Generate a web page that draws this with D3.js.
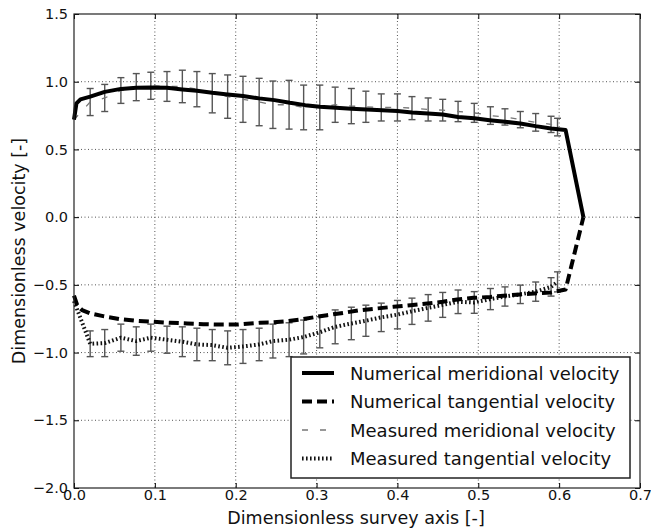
<!DOCTYPE HTML>
<html>

<head>
  <meta charset="utf-8">
  <title>velocity</title>
  <script src="https://d3js.org/d3.v7.min.js"></script>
  <style>
    body { margin: 0; background: #fff; }
    text { font-family: 'DejaVu Sans', sans-serif; fill: #111; }
  </style>
</head>

<body>
  <script>
    // numerical solution
    const numMeridX = [0, 0.003, 0.008, 0.02, 0.038, 0.058, 0.077, 0.095, 0.115, 0.134, 0.152, 0.171, 0.19, 0.209, 0.229, 0.248, 0.267, 0.286, 0.304, 0.324, 0.343, 0.362, 0.381, 0.4, 0.418, 0.438, 0.456, 0.475, 0.495, 0.514, 0.533, 0.552, 0.571, 0.59, 0.608, 0.63];
    const numMerid = [0.72, 0.84, 0.87, 0.89, 0.925, 0.947, 0.955, 0.958, 0.955, 0.943, 0.933, 0.918, 0.906, 0.894, 0.877, 0.864, 0.844, 0.827, 0.815, 0.807, 0.80, 0.795, 0.79, 0.783, 0.773, 0.766, 0.758, 0.74, 0.73, 0.716, 0.704, 0.692, 0.672, 0.655, 0.643, 0.0];

    const numTangX = [0, 0.004, 0.01, 0.02, 0.036, 0.057, 0.078, 0.098, 0.119, 0.14, 0.16, 0.181, 0.202, 0.23, 0.242, 0.263, 0.28, 0.30, 0.313, 0.333, 0.354, 0.375, 0.395, 0.416, 0.437, 0.456, 0.474, 0.494, 0.515, 0.531, 0.552, 0.569, 0.59, 0.608, 0.63];
    const numTang = [-0.58, -0.65, -0.687, -0.711, -0.731, -0.753, -0.766, -0.773, -0.78, -0.785, -0.79, -0.793, -0.793, -0.78, -0.778, -0.768, -0.756, -0.736, -0.724, -0.707, -0.687, -0.674, -0.662, -0.65, -0.638, -0.625, -0.608, -0.596, -0.589, -0.58, -0.571, -0.564, -0.556, -0.534, 0.0];

    // measurements with error bars
    const measX = [0, 0.020, 0.038, 0.058, 0.077, 0.095, 0.115, 0.134, 0.152, 0.171, 0.190, 0.209, 0.229, 0.246, 0.266, 0.284, 0.304, 0.323, 0.343, 0.361, 0.380, 0.400, 0.418, 0.438, 0.456, 0.475, 0.495, 0.515, 0.533, 0.552, 0.571, 0.590, 0.598];
    const measMerid = [0.72, 0.85, 0.88, 0.935, 0.96, 0.97, 0.965, 0.965, 0.945, 0.915, 0.89, 0.87, 0.85, 0.83, 0.83, 0.81, 0.81, 0.83, 0.82, 0.815, 0.81, 0.81, 0.805, 0.795, 0.79, 0.78, 0.77, 0.75, 0.74, 0.72, 0.70, 0.685, 0.665];
    const measMeridErr = [0, 0.10, 0.10, 0.095, 0.10, 0.10, 0.11, 0.12, 0.13, 0.145, 0.16, 0.17, 0.175, 0.175, 0.18, 0.165, 0.165, 0.13, 0.13, 0.115, 0.10, 0.10, 0.085, 0.085, 0.08, 0.075, 0.07, 0.065, 0.06, 0.06, 0.065, 0.06, 0.065];
    const measTang = [-0.62, -0.935, -0.93, -0.89, -0.915, -0.89, -0.905, -0.92, -0.94, -0.945, -0.965, -0.955, -0.94, -0.915, -0.905, -0.885, -0.85, -0.81, -0.785, -0.765, -0.74, -0.72, -0.695, -0.67, -0.648, -0.625, -0.63, -0.605, -0.586, -0.57, -0.55, -0.515, -0.478];
    const measTangErr = [0, 0.095, 0.10, 0.10, 0.105, 0.10, 0.10, 0.11, 0.12, 0.115, 0.125, 0.125, 0.12, 0.125, 0.125, 0.125, 0.115, 0.125, 0.12, 0.115, 0.105, 0.105, 0.097, 0.098, 0.092, 0.087, 0.08, 0.078, 0.071, 0.068, 0.071, 0.068, 0.074];

    const xTicks = [0, 0.1, 0.2, 0.3, 0.4, 0.5, 0.6, 0.7];
    const yTicks = [-2.0, -1.5, -1.0, -0.5, 0.0, 0.5, 1.0, 1.5];

    const legendLabels = [
      'Numerical meridional velocity',
      'Numerical tangential velocity',
      'Measured meridional velocity',
      'Measured tangential velocity',
    ];

    const W = 651, H = 532;
    const m = { left: 74, top: 14, right: 11, bottom: 44 };
    const pw = W - m.left - m.right;
    const ph = H - m.top - m.bottom;

    const svg = d3.select('body').append('svg')
      .attr('width', W)
      .attr('height', H);

    const x = d3.scaleLinear().domain([0, 0.7]).range([m.left, m.left + pw]);
    const y = d3.scaleLinear().domain([-2, 1.5]).range([m.top + ph, m.top]);

    const fmt = (d) => d3.format('.1f')(d).replace('-', '\u2212');

    // grid
    const grid = svg.append('g')
      .attr('stroke', '#555')
      .attr('stroke-width', 1)
      .attr('stroke-dasharray', '1,2.5');
    grid.selectAll('.gx').data(xTicks.slice(1, -1)).join('line')
      .attr('x1', d => x(d)).attr('x2', d => x(d))
      .attr('y1', m.top).attr('y2', m.top + ph);
    grid.selectAll('.gy').data(yTicks.slice(1, -1)).join('line')
      .attr('y1', d => y(d)).attr('y2', d => y(d))
      .attr('x1', m.left).attr('x2', m.left + pw);

    // axes, ticks inside on every side
    const fs = '14.5px';
    svg.append('g')
      .attr('transform', `translate(0,${m.top + ph})`)
      .call(d3.axisBottom(x).tickValues(xTicks).tickFormat(fmt).tickSizeInner(-5).tickSizeOuter(0).tickPadding(2))
      .call(g => g.select('.domain').remove())
      .call(g => g.selectAll('text').attr('font-size', fs).attr('font-family', 'DejaVu Sans'));
    svg.append('g')
      .attr('transform', `translate(0,${m.top})`)
      .call(d3.axisTop(x).tickValues(xTicks).tickFormat('').tickSizeInner(-5).tickSizeOuter(0))
      .call(g => g.select('.domain').remove());
    svg.append('g')
      .attr('transform', `translate(${m.left},0)`)
      .call(d3.axisLeft(y).tickValues(yTicks).tickFormat(fmt).tickSizeInner(-5).tickSizeOuter(0).tickPadding(6))
      .call(g => g.select('.domain').remove())
      .call(g => g.selectAll('text').attr('font-size', fs).attr('font-family', 'DejaVu Sans'));
    svg.append('g')
      .attr('transform', `translate(${m.left + pw},0)`)
      .call(d3.axisRight(y).tickValues(yTicks).tickFormat('').tickSizeInner(-5).tickSizeOuter(0))
      .call(g => g.select('.domain').remove());

    // measured series
    const meridPts = measX.map((d, i) => ({ x: d, v: measMerid[i], e: measMeridErr[i] }));
    const tangPts = measX.map((d, i) => ({ x: d, v: measTang[i], e: measTangErr[i] }));

    const line = d3.line().x(d => x(d.x)).y(d => y(d.v));

    const errBars = (pts) => {
      const g = svg.append('g')
        .attr('stroke', '#555')
        .attr('stroke-width', 1.4)
        .attr('fill', 'none');
      const sel = g.selectAll('g').data(pts.filter(d => d.e > 0)).join('g');
      sel.append('line')
        .attr('x1', d => x(d.x)).attr('x2', d => x(d.x))
        .attr('y1', d => y(d.v + d.e)).attr('y2', d => y(d.v - d.e));
      sel.append('line')
        .attr('x1', d => x(d.x) - 3.5).attr('x2', d => x(d.x) + 3.5)
        .attr('y1', d => y(d.v + d.e)).attr('y2', d => y(d.v + d.e));
      sel.append('line')
        .attr('x1', d => x(d.x) - 3.5).attr('x2', d => x(d.x) + 3.5)
        .attr('y1', d => y(d.v - d.e)).attr('y2', d => y(d.v - d.e));
    };

    errBars(meridPts);
    errBars(tangPts);

    const styles = [
      { stroke: '#000', width: 4, dash: null },
      { stroke: '#000', width: 4, dash: '10,5' },
      { stroke: '#777', width: 1.3, dash: '6,12' },
      { stroke: '#111', width: 4, dash: '1.6,2.4' },
    ];

    const drawLine = (pts, s) => svg.append('path')
      .datum(pts)
      .attr('d', line)
      .attr('fill', 'none')
      .attr('stroke', s.stroke)
      .attr('stroke-width', s.width)
      .attr('stroke-dasharray', s.dash)
      .attr('stroke-linejoin', 'round');

    drawLine(meridPts, styles[2]);
    drawLine(tangPts, styles[3]);
    drawLine(numMeridX.map((d, i) => ({ x: d, v: numMerid[i] })), styles[0]);
    drawLine(numTangX.map((d, i) => ({ x: d, v: numTang[i] })), styles[1]);

    // frame
    svg.append('rect')
      .attr('x', m.left).attr('y', m.top)
      .attr('width', pw).attr('height', ph)
      .attr('fill', 'none')
      .attr('stroke', '#222')
      .attr('stroke-width', 1.2);

    // legend
    const lg = svg.append('g').attr('transform', 'translate(291,357)');
    lg.append('rect')
      .attr('width', 339).attr('height', 121)
      .attr('fill', '#fff')
      .attr('stroke', '#222')
      .attr('stroke-width', 1.5);
    const rows = lg.selectAll('.row').data(legendLabels).join('g')
      .attr('transform', (d, i) => `translate(0,${16 + i * 28.5})`);
    rows.append('line')
      .attr('x1', 11).attr('x2', 43)
      .attr('stroke', (d, i) => styles[i].stroke)
      .attr('stroke-width', (d, i) => styles[i].width)
      .attr('stroke-dasharray', (d, i) => styles[i].dash);
    rows.append('text')
      .attr('x', 59).attr('y', 6.5)
      .attr('font-size', '18px')
      .text(d => d);

    // axis titles
    svg.append('text')
      .attr('x', m.left + pw / 2 - 1).attr('y', 524)
      .attr('text-anchor', 'middle')
      .attr('font-size', '17.5px')
      .text('Dimensionless survey axis [-]');
    svg.append('text')
      .attr('transform', `translate(25,${m.top + ph / 2}) rotate(-90)`)
      .attr('text-anchor', 'middle')
      .attr('font-size', '17.5px')
      .text('Dimensionless velocity [-]');
  </script>
</body>

</html>
